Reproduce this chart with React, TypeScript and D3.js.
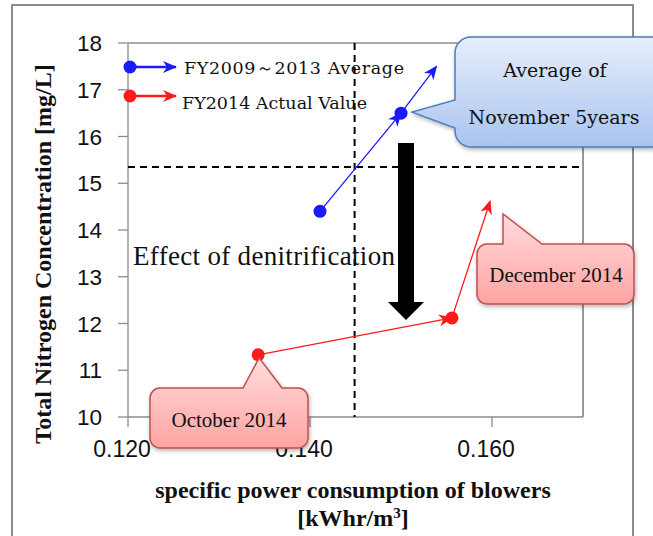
import React from "react";
import * as d3 from "d3";

// ---- data ----
const xTickValues = [0.12, 0.14, 0.16];
const xTickLabels = ["0.120", "0.140", "0.160"];
const yTickValues = [10, 11, 12, 13, 14, 15, 16, 17, 18];
const avgX = [0.1411, 0.15, 0.1539]; // FY2009~2013 average (last = arrow end)
const avgY = [14.4, 16.5, 17.5];
const actX = [0.1343, 0.1556, 0.1598]; // FY2014 actual (last = arrow end)
const actY = [11.33, 12.12, 14.62];
const refX = 0.1449;
const refY = 15.35;
const legendLabels = ["FY2009\uFF5E2013 Average", "FY2014 Actual Value"];
const seriesColors = ["#1a1aff", "#ff1a1a"];

const W = 653;
const H = 536;
const L = 128, R = 583, T = 43, B = 417;

const x = d3.scaleLinear().domain([0.12, 0.17]).range([L, R]);
const y = d3.scaleLinear().domain([10, 18]).range([B, T]);

const SERIF = "'Liberation Serif', 'Times New Roman', serif";
const CENT = "'DejaVu Serif', 'Liberation Serif', serif";
const SANS = "'Liberation Sans', Arial, sans-serif";

function roundRectCallout(
  x0: number, y0: number, x1: number, y1: number, r: number,
  side: "left" | "top", a: number, b: number, tx: number, ty: number
) {
  const p = d3.path();
  p.moveTo(x0 + r, y0);
  if (side === "top") {
    p.lineTo(a, y0);
    p.lineTo(tx, ty);
    p.lineTo(b, y0);
  }
  p.lineTo(x1 - r, y0);
  p.arcTo(x1, y0, x1, y0 + r, r);
  p.lineTo(x1, y1 - r);
  p.arcTo(x1, y1, x1 - r, y1, r);
  p.lineTo(x0 + r, y1);
  p.arcTo(x0, y1, x0, y1 - r, r);
  if (side === "left") {
    p.lineTo(x0, b);
    p.lineTo(tx, ty);
    p.lineTo(x0, a);
  }
  p.lineTo(x0, y0 + r);
  p.arcTo(x0, y0, x0 + r, y0, r);
  p.closePath();
  return p.toString();
}

export default function App() {
  const line = d3.line<[number, number]>().x((d) => x(d[0])).y((d) => y(d[1]));
  const series = [
    { xs: avgX, ys: avgY, color: seriesColors[0], id: "b" },
    { xs: actX, ys: actY, color: seriesColors[1], id: "r" },
  ];
  return (
    <svg
      width={W}
      height={H}
      style={{ position: "absolute", left: 0, top: 0, background: "#fff" }}
    >
      <defs>
        {series.map((s) => (
          <marker
            key={s.id}
            id={"arr-" + s.id}
            markerUnits="userSpaceOnUse"
            markerWidth={16}
            markerHeight={14}
            refX={13}
            refY={6}
            orient="auto"
          >
            <path d="M0,0 L14,6 L0,12 L4,6 Z" fill={s.color} />
          </marker>
        ))}
        <linearGradient id="gBlue" x1="0" y1="0" x2="0" y2="1">
          <stop offset="0" stopColor="#e6eefb" />
          <stop offset="1" stopColor="#a9c4f0" />
        </linearGradient>
        <linearGradient id="gRed" x1="0" y1="0" x2="0" y2="1">
          <stop offset="0" stopColor="#ffdcdc" />
          <stop offset="1" stopColor="#ffa3a3" />
        </linearGradient>
        <filter id="shadow" x="-20%" y="-20%" width="140%" height="150%">
          <feDropShadow dx="1" dy="2" stdDeviation="2" floodColor="#000" floodOpacity="0.3" />
        </filter>
      </defs>

      {/* outer frame */}
      <rect x={12} y={5} width={621} height={560} fill="#fff" stroke="#8c8c8c" strokeWidth={2} />

      {/* plot border */}
      <line x1={L} y1={T} x2={R} y2={T} stroke="#555" strokeWidth={1} />
      <line x1={R} y1={T} x2={R} y2={B} stroke="#333" strokeWidth={1} />
      <line x1={L} y1={T} x2={L} y2={B} stroke="#8c8c8c" strokeWidth={1.3} />
      <line x1={L} y1={B} x2={R} y2={B} stroke="#8c8c8c" strokeWidth={1.3} />

      {/* y ticks */}
      {yTickValues.map((v) => (
        <g key={"y" + v}>
          <line x1={L - 10} x2={L} y1={y(v)} y2={y(v)} stroke="#8c8c8c" strokeWidth={1.3} />
          <text x={102} y={y(v) + 8} textAnchor="end" fontFamily={SANS} fontSize={22.5} fill="#111">
            {v}
          </text>
        </g>
      ))}
      {/* x ticks */}
      {xTickValues.map((v, i) => (
        <g key={"x" + v}>
          <line x1={x(v)} x2={x(v)} y1={B} y2={B + 10} stroke="#8c8c8c" strokeWidth={1.3} />
          <text x={x(v) - 6} y={457} textAnchor="middle" fontFamily={SANS} fontSize={23} fill="#111">
            {xTickLabels[i]}
          </text>
        </g>
      ))}

      {/* reference dashed lines */}
      <line x1={x(refX)} x2={x(refX)} y1={T} y2={B} stroke="#000" strokeWidth={2} strokeDasharray="7,5" />
      <line x1={L} x2={R} y1={y(refY)} y2={y(refY)} stroke="#000" strokeWidth={2} strokeDasharray="7,5" />

      {/* axis titles */}
      <text
        transform={`translate(51,254) rotate(-90)`}
        textAnchor="middle"
        fontFamily={SERIF}
        fontWeight="bold"
        fontSize={24}
        fill="#111"
      >
        Total Nitrogen Concentration [mg/L]
      </text>
      <text x={353} y={498} textAnchor="middle" fontFamily={SERIF} fontWeight="bold" fontSize={24} fill="#111">
        specific power consumption of blowers
      </text>
      <text x={353} y={526} textAnchor="middle" fontFamily={SERIF} fontWeight="bold" fontSize={24} fill="#111">
        [kWhr/m<tspan dy={-8} fontSize={15}>3</tspan>
        <tspan dy={8}>]</tspan>
      </text>

      {/* series arrows */}
      {series.map((s) => (
        <g key={s.id}>
          {[0, 1].map((k) => (
            <path
              key={k}
              d={line([
                [s.xs[k], s.ys[k]],
                [s.xs[k + 1], s.ys[k + 1]],
              ])!}
              fill="none"
              stroke={s.color}
              strokeWidth={1.3}
              markerEnd={`url(#arr-${s.id})`}
            />
          ))}
          {[0, 1].map((k) => (
            <circle key={"c" + k} cx={x(s.xs[k])} cy={y(s.ys[k])} r={6.5} fill={s.color} />
          ))}
        </g>
      ))}

      {/* legend */}
      {legendLabels.map((lab, i) => {
        const ly = [67, 96][i];
        const c = seriesColors[i];
        return (
          <g key={lab}>
            <line x1={130} x2={176} y1={ly} y2={ly} stroke={c} strokeWidth={2.5} markerEnd={`url(#arr-${i === 0 ? "b" : "r"})`} />
            <circle cx={130} cy={ly} r={6.5} fill={c} />
            <text
              x={i === 0 ? 184 : 182}
              y={i === 0 ? 74 : 109}
              fontFamily={CENT}
              fontSize={17.5}
              fill="#111"
              textLength={i === 0 ? 220 : 185}
              lengthAdjust="spacing"
            >
              {lab}
            </text>
          </g>
        );
      })}

      {/* effect text + big arrow */}
      <text x={133} y={265} fontFamily={SERIF} fontSize={27} fill="#111" textLength={262} lengthAdjust="spacing">
        Effect of denitrification
      </text>
      <path d="M398,143 L414,143 L414,302 L424,302 L406,320 L388,302 L398,302 Z" fill="#000" />

      {/* callouts */}
      <g filter="url(#shadow)">
        <path
          d={roundRectCallout(455, 37, 668, 147, 16, "left", 100, 128, x(avgX[1]) + 11, y(avgY[1]) - 1)}
          fill="url(#gBlue)"
          stroke="#4a7ebb"
          strokeWidth={1.5}
        />
        <path
          d={roundRectCallout(150, 388, 308, 448, 10, "top", 243, 282, x(actX[0]) + 1, y(actY[0]) + 3)}
          fill="url(#gRed)"
          stroke="#c0504d"
          strokeWidth={1.5}
        />
        <path
          d={roundRectCallout(477, 244, 634, 304, 10, "top", 503, 542, 503, 214)}
          fill="url(#gRed)"
          stroke="#c0504d"
          strokeWidth={1.5}
        />
      </g>
      <text x={555} y={77} textAnchor="middle" fontFamily={CENT} fontSize={19} fill="#111">
        Average of
      </text>
      <text x={554} y={124} textAnchor="middle" fontFamily={CENT} fontSize={19} fill="#111">
        November 5years
      </text>
      <text x={229} y={427} textAnchor="middle" fontFamily={SERIF} fontSize={21} fill="#111">
        October 2014
      </text>
      <text x={556} y={282} textAnchor="middle" fontFamily={SERIF} fontSize={21} fill="#111">
        December 2014
      </text>
    </svg>
  );
}
